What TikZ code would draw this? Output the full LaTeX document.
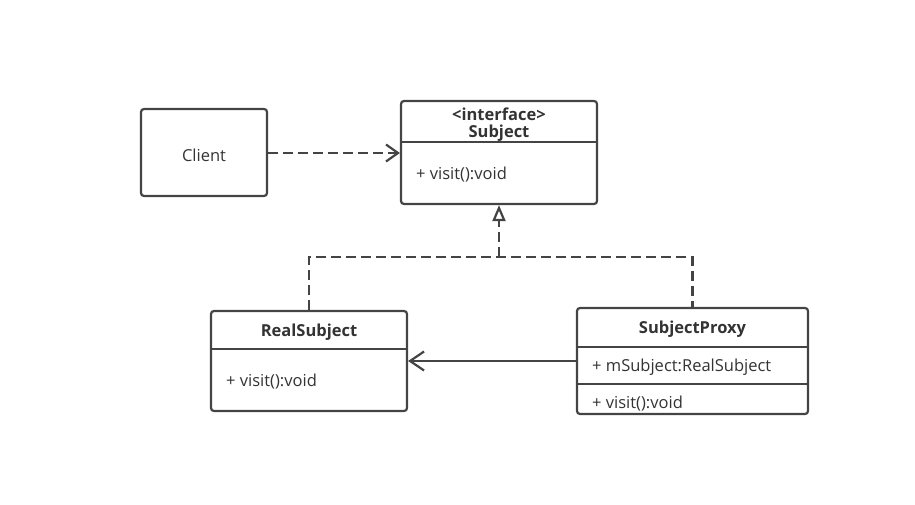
\documentclass[tikz,border=0pt]{standalone}
\usepackage{fontspec}
\setmainfont{Open Sans}
\usepackage{tikz}
\usetikzlibrary{arrows.meta,positioning}
\definecolor{LineCol}{HTML}{444444}
\definecolor{TextCol}{HTML}{333333}
\begin{document}
\begin{tikzpicture}[
  x=1pt, y=-1pt,
  every node/.style={font=\fontsize{16.5}{19}\selectfont, text=TextCol},
  box/.style={draw=LineCol, line width=2.2pt, rounded corners=3pt, inner sep=0pt},
  ttl/.style={font=\fontsize{16.5}{19}\selectfont\bfseries},
  mbr/.style={anchor=west, inner sep=0pt},
  sep/.style={draw=LineCol, line width=1.8pt},
  dep/.style={draw=LineCol, line width=2.2pt, dash pattern=on 10pt off 5pt},
  >=Stealth]
  \useasboundingbox (0,0) rectangle (915,505);
  % boxes
  \node[box, minimum width=126pt, minimum height=87pt]  (client) at (204,152.5) {};
  \node[box, minimum width=196pt, minimum height=103pt] (subj)   at (499,152.5) {};
  \node[box, minimum width=196pt, minimum height=100pt] (rs)     at (309,361) {};
  \node[box, minimum width=231pt, minimum height=106pt] (sp)     at (692.5,361) {};
  % texts
  \node (clientT) at (204,155) {Client};
  \node[ttl] (subjS) at (499,114) {<interface>};
  \node[ttl] (subjT) at (499,133) {Subject};
  \node[mbr] (subjM) at (416,175) {+ visit():void};
  \node[ttl] (rsT) at (309,332) {RealSubject};
  \node[mbr] (rsM) at (226,382) {+ visit():void};
  \node[ttl] (spT) at (692.5,329) {SubjectProxy};
  \node[mbr] (spA) at (592,367) {+ mSubject:RealSubject};
  \node[mbr] (spM) at (592,404) {+ visit():void};
  % compartments
  \draw[sep] (subj.west |- 0,142) -- (subj.east |- 0,142);
  \draw[sep] (rs.west |- 0,349) -- (rs.east |- 0,349);
  \draw[sep] (sp.west |- 0,347) -- (sp.east |- 0,347);
  \draw[sep] (sp.west |- 0,384) -- (sp.east |- 0,384);
  % relations
  \coordinate (jn) at (499,257);
  \draw[dep, -{Straight Barb[length=12pt,width=17pt,line width=2.2pt]}] (client.east |- 0,153) -- (subj.west |- 0,153);
  \draw[dep] (rs.north) |- (jn) -| (sp.north);
  \draw[dep, -{Triangle[open,length=16pt,width=13pt,line width=2.2pt]}] (jn) -- (subj.south);
  \draw[draw=LineCol, line width=2.2pt, -{Straight Barb[length=14pt,width=19pt,line width=2.2pt]}] (sp.west |- 0,361) -- (rs.east |- 0,361);
\end{tikzpicture}
\end{document}
